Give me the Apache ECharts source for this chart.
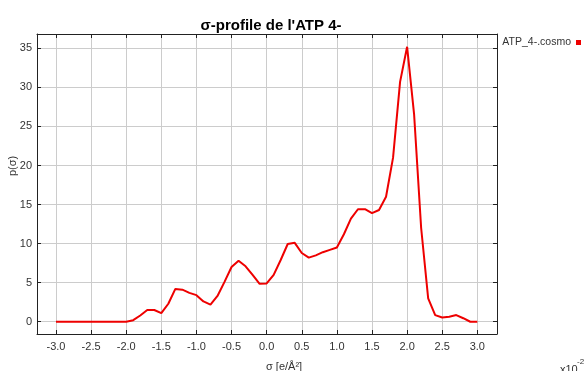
<!DOCTYPE html>
<html>
<head>
<meta charset="utf-8">
<script src="https://cdn.jsdelivr.net/npm/echarts@6/dist/echarts.min.js"></script>
<style>
  html, body { margin: 0; padding: 0; background: #fff; }
  #chart { width: 584px; height: 371px; }
</style>
</head>
<body>
<div id="chart"></div>
<script>
// Sigma-profile of ATP 4- (COSMO), sigma in units of 10^-2 e/Å²
const sigma = [
  -3.0, -2.9, -2.8, -2.7, -2.6, -2.5, -2.4, -2.3, -2.2, -2.1, -2.0,
  -1.9, -1.8, -1.7, -1.6, -1.5, -1.4, -1.3, -1.2, -1.1, -1.0,
  -0.9, -0.8, -0.7, -0.6, -0.5, -0.4, -0.3, -0.2, -0.1, 0.0,
  0.1, 0.2, 0.3, 0.4, 0.5, 0.6, 0.7, 0.8, 0.9, 1.0,
  1.1, 1.2, 1.3, 1.4, 1.5, 1.6, 1.7, 1.8, 1.9, 2.0,
  2.1, 2.2, 2.3, 2.4, 2.5, 2.6, 2.7, 2.8, 2.9, 3.0
];
const pSigma = [
  0, 0, 0, 0, 0, 0, 0, 0, 0, 0, 0,
  0.2, 0.8, 1.5, 1.5, 1.1, 2.3, 4.2, 4.1, 3.7, 3.4,
  2.6, 2.2, 3.3, 5.1, 7.0, 7.8, 7.1, 6.0, 4.85, 4.9,
  6.0, 7.9, 9.95, 10.1, 8.8, 8.2, 8.5, 8.9, 9.2, 9.5,
  11.2, 13.2, 14.4, 14.4, 13.9, 14.3, 16.0, 21.0, 30.7, 35.2,
  26.5, 12.0, 3.0, 0.85, 0.55, 0.65, 0.85, 0.45, 0.0, 0.0
];
const seriesName = 'ATP_4-.cosmo';
const xTicks = [-3.0, -2.5, -2.0, -1.5, -1.0, -0.5, 0.0, 0.5, 1.0, 1.5, 2.0, 2.5, 3.0];
const yTicks = [0, 5, 10, 15, 20, 25, 30, 35];

const font = "'Liberation Sans', Arial, sans-serif";
const xRange = { min: -3.27, max: 3.28 };
const yRange = { min: -1.57, max: 36.83 };

const chart = echarts.init(document.getElementById('chart'), null, { renderer: 'canvas' });

function xAxisCfg(pos, labels) {
  return {
    type: 'value', position: pos, min: xRange.min, max: xRange.max,
    axisLine: { show: true, onZero: false, lineStyle: { color: '#222', width: 1 } },
    axisTick: { show: true, inside: true, length: 4, customValues: xTicks, lineStyle: { color: '#222' } },
    axisLabel: {
      show: labels, customValues: xTicks, margin: 7, color: '#333', fontSize: 11, fontFamily: font,
      formatter: v => v.toFixed(1)
    },
    splitLine: { show: labels, lineStyle: { color: '#cccccc', width: 1 } }
  };
}
function yAxisCfg(pos, labels) {
  return {
    type: 'value', position: pos, min: yRange.min, max: yRange.max,
    axisLine: { show: true, onZero: false, lineStyle: { color: '#222', width: 1 } },
    axisTick: { show: true, inside: true, length: 4, customValues: yTicks, lineStyle: { color: '#222' } },
    axisLabel: {
      show: labels, customValues: yTicks, margin: 5, color: '#333', fontSize: 11, fontFamily: font
    },
    splitLine: { show: labels, lineStyle: { color: '#cccccc', width: 1 } }
  };
}

chart.setOption({
  backgroundColor: '#ffffff',
  animation: false,
  title: {
    text: 'σ-profile de l\'ATP 4-',
    left: 266, textAlign: 'center', top: 13,
    textStyle: { fontSize: 15, fontWeight: 'bold', color: '#000', fontFamily: font }
  },
  legend: {
    data: [seriesName],
    right: 3, top: 37, align: 'right', orient: 'vertical', padding: 0,
    icon: 'rect', itemWidth: 5, itemHeight: 5,
    textStyle: { fontSize: 10.5, color: '#333', fontFamily: font }
  },
  grid: { left: 37, right: 87, top: 34, bottom: 37, containLabel: false },
  xAxis: [xAxisCfg('bottom', true), xAxisCfg('top', false)],
  yAxis: [yAxisCfg('left', true), yAxisCfg('right', false)],
  graphic: [
    {
      type: 'text', left: 266, top: 361,
      style: { text: 'σ [e/Å²]', fill: '#333', font: "11px 'Liberation Sans', Arial", textAlign: 'center' }
    },
    {
      type: 'text', x: 560, y: 364,
      style: { text: 'x10', fill: '#333', font: "11px 'Liberation Sans', Arial" }
    },
    {
      type: 'text', x: 577, y: 358,
      style: { text: '-2', fill: '#333', font: "8px 'Liberation Sans', Arial" }
    },
    {
      type: 'text', x: 13, y: 166, rotation: Math.PI / 2,
      style: { text: 'p(σ)', fill: '#333', font: "11px 'Liberation Sans', Arial", textAlign: 'center', textVerticalAlign: 'middle' }
    }
  ],
  series: [{
    name: seriesName,
    type: 'line',
    xAxisIndex: 0, yAxisIndex: 0,
    data: sigma.map((s, i) => [s, pSigma[i]]),
    showSymbol: false,
    smooth: false,
    itemStyle: { color: '#ee0000' },
    lineStyle: { color: '#ee0000', width: 2 }
  }]
});
</script>
</body>
</html>
